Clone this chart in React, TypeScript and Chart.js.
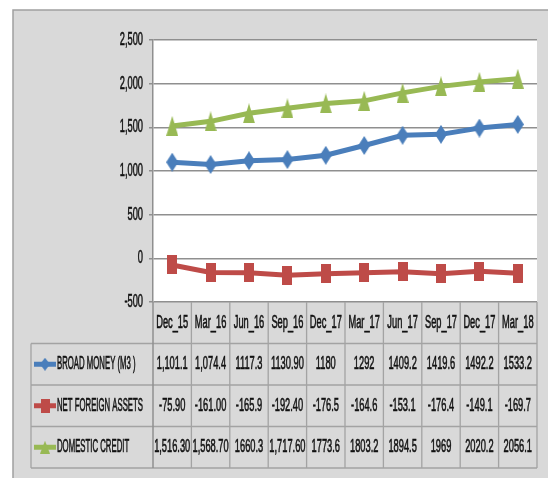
import React, { useEffect, useRef } from "react";
import { Chart, registerables } from "chart.js";

Chart.register(...registerables);

const categories = ["Dec_15", "Mar_16", "Jun_16", "Sep_16", "Dec_17", "Mar_17", "Jun_17", "Sep_17", "Dec_17", "Mar_18"];
const broadMoney = [1101.1, 1074.4, 1117.3, 1130.9, 1180, 1292, 1409.2, 1419.6, 1492.2, 1533.2];
const netForeignAssets = [-75.9, -161.0, -165.9, -192.4, -176.5, -164.6, -153.1, -176.4, -149.1, -169.7];
const domesticCredit = [1516.3, 1568.7, 1660.3, 1717.6, 1773.6, 1803.2, 1894.5, 1969, 2020.2, 2056.1];
const broadMoneyText = ["1,101.1", "1,074.4", "1117.3", "1130.90", "1180", "1292", "1409.2", "1419.6", "1492.2", "1533.2"];
const netForeignAssetsText = ["-75.90", "-161.00", "-165.9", "-192.40", "-176.5", "-164.6", "-153.1", "-176.4", "-149.1", "-169.7"];
const domesticCreditText = ["1,516.30", "1,568.70", "1660.3", "1,717.60", "1773.6", "1803.2", "1894.5", "1969", "2020.2", "2056.1"];
const seriesNames = ["BROAD MONEY (M3 )", "NET FOREIGN ASSETS", "DOMESTIC CREDIT"];
const yMin = -500;
const yMax = 2500;
const yStep = 500;

const COLORS = ["#4a7ebb", "#be4b48", "#98b954"];
const FONT = "18px 'Liberation Sans', 'DejaVu Sans', sans-serif";
const GRID = "#8f8f8f";
const TABLE_LINE = "#a3a3a3";

function makeMarker(shape: string, color: string, w: number, h: number) {
  const c = document.createElement("canvas");
  c.width = w;
  c.height = h;
  const g = c.getContext("2d")!;
  g.fillStyle = color;
  g.beginPath();
  if (shape === "diamond") {
    g.moveTo(w / 2, 0);
    g.lineTo(w, h / 2);
    g.lineTo(w / 2, h);
    g.lineTo(0, h / 2);
  } else if (shape === "square") {
    g.rect(0, 0, w, h);
  } else {
    g.moveTo(w / 2, 0);
    g.lineTo(w, h);
    g.lineTo(0, h);
  }
  g.closePath();
  g.fill();
  return c;
}

function drawText(ctx: CanvasRenderingContext2D, s: string, x: number, y: number, align: CanvasTextAlign, sx: number) {
  ctx.save();
  ctx.translate(x, y);
  ctx.scale(sx, 1);
  ctx.textAlign = align;
  ctx.textBaseline = "middle";
  ctx.lineWidth = 0.6;
  ctx.strokeStyle = "#111111";
  ctx.fillStyle = "#111111";
  ctx.strokeText(s, 0, 0);
  ctx.fillText(s, 0, 0);
  ctx.restore();
}

export default function App() {
  const ref = useRef<HTMLCanvasElement>(null);

  useEffect(() => {
    if (!ref.current) return;
    const bigMarkers = [
      makeMarker("diamond", COLORS[0], 12, 19),
      makeMarker("square", COLORS[1], 10, 19),
      makeMarker("triangle", COLORS[2], 12, 20),
    ];
    const smallMarkers = [
      makeMarker("diamond", COLORS[0], 10, 13),
      makeMarker("square", COLORS[1], 9, 14),
      makeMarker("triangle", COLORS[2], 10, 13),
    ];
    const values = [broadMoney, netForeignAssets, domesticCredit];
    const texts = [broadMoneyText, netForeignAssetsText, domesticCreditText];

    const bgPlugin = {
      id: "bg",
      beforeDraw(chart: any) {
        const ctx = chart.ctx as CanvasRenderingContext2D;
        const a = chart.chartArea;
        ctx.save();
        ctx.fillStyle = "#ffffff";
        ctx.fillRect(0, 0, chart.width, chart.height);
        ctx.fillStyle = "#d9d9d9";
        ctx.fillRect(13, 10, chart.width - 13, chart.height - 10);
        ctx.strokeStyle = "#a0a0a0";
        ctx.lineWidth = 1.5;
        ctx.beginPath();
        ctx.moveTo(13, chart.height);
        ctx.lineTo(13, 10);
        ctx.lineTo(chart.width, 10);
        ctx.stroke();
        ctx.fillStyle = "#ffffff";
        ctx.fillRect(a.left, a.top, a.right - a.left, a.bottom - a.top);
        ctx.restore();
      },
    };

    const tablePlugin = {
      id: "table",
      afterDraw(chart: any) {
        const ctx = chart.ctx as CanvasRenderingContext2D;
        const xs = chart.scales.x;
        const ys = chart.scales.y;
        const a = chart.chartArea;
        ctx.save();
        ctx.font = FONT;
        const sx = 32 / ctx.measureText("Dec_15").width;
        const sxName = 86 / ctx.measureText(seriesNames[1]).width;

        ys.ticks.forEach((t: any) => {
          drawText(ctx, Number(t.value).toLocaleString("en-US"), a.left - 10, ys.getPixelForValue(t.value), "right", sx);
        });

        const n = categories.length;
        const edges: number[] = [];
        for (let i = 0; i <= n; i++) edges.push(xs.getPixelForValue(i - 0.5));
        const rowH = 41.5;
        const tableLeft = 31;
        const rows = [0, 1, 2, 3, 4].map((k) => a.bottom + k * rowH);

        ctx.strokeStyle = TABLE_LINE;
        ctx.lineWidth = 1.3;
        ctx.beginPath();
        for (let k = 1; k <= 4; k++) {
          ctx.moveTo(tableLeft, rows[k]);
          ctx.lineTo(edges[n], rows[k]);
        }
        for (let i = 1; i <= n; i++) {
          ctx.moveTo(edges[i], rows[0]);
          ctx.lineTo(edges[i], rows[4]);
        }
        ctx.moveTo(tableLeft, rows[1]);
        ctx.lineTo(tableLeft, rows[4]);
        ctx.stroke();
        ctx.strokeStyle = GRID;
        ctx.lineWidth = 1.5;
        ctx.beginPath();
        ctx.moveTo(edges[0], rows[0]);
        ctx.lineTo(edges[0], rows[4]);
        ctx.stroke();

        for (let i = 0; i < n; i++) {
          drawText(ctx, categories[i], (edges[i] + edges[i + 1]) / 2, (rows[0] + rows[1]) / 2, "center", sx);
        }
        for (let r = 0; r < 3; r++) {
          const cy = (rows[r + 1] + rows[r + 2]) / 2;
          ctx.strokeStyle = COLORS[r];
          ctx.lineWidth = 5;
          ctx.beginPath();
          ctx.moveTo(34, cy);
          ctx.lineTo(56, cy);
          ctx.stroke();
          const m = smallMarkers[r];
          ctx.drawImage(m, 45 - m.width / 2, cy - m.height / 2);
          drawText(ctx, seriesNames[r], 57, cy, "left", sxName);
          for (let i = 0; i < n; i++) {
            drawText(ctx, texts[r][i], (edges[i] + edges[i + 1]) / 2, cy, "center", sx);
          }
        }
        ctx.restore();
      },
    };

    const chart = new Chart(ref.current, {
      type: "line",
      data: {
        labels: categories,
        datasets: values.map((v, k) => ({
          label: seriesNames[k],
          data: v,
          borderColor: COLORS[k],
          backgroundColor: COLORS[k],
          borderWidth: 5,
          pointStyle: bigMarkers[k] as any,
          pointRadius: 6,
          tension: 0,
          fill: false,
        })),
      },
      options: {
        responsive: false,
        animation: false,
        layout: { padding: { left: 0, top: 40, right: 8, bottom: 176 } },
        plugins: { legend: { display: false }, tooltip: { enabled: false } },
        scales: {
          x: {
            type: "category",
            display: false,
            offset: true,
          },
          y: {
            min: yMin,
            max: yMax,
            ticks: { stepSize: yStep, display: false },
            grid: { color: GRID, lineWidth: 1.5, tickLength: 4, drawTicks: true },
            border: { display: true, color: GRID, width: 1.5 },
            afterFit: (s: any) => {
              s.width = 153;
            },
          },
        },
      },
      plugins: [bgPlugin, tablePlugin],
    });
    return () => chart.destroy();
  }, []);

  return (
    <div style={{ position: "fixed", left: 0, top: 0, width: 548, height: 478 }}>
      <canvas ref={ref} width={548} height={478} style={{ display: "block" }} />
    </div>
  );
}
